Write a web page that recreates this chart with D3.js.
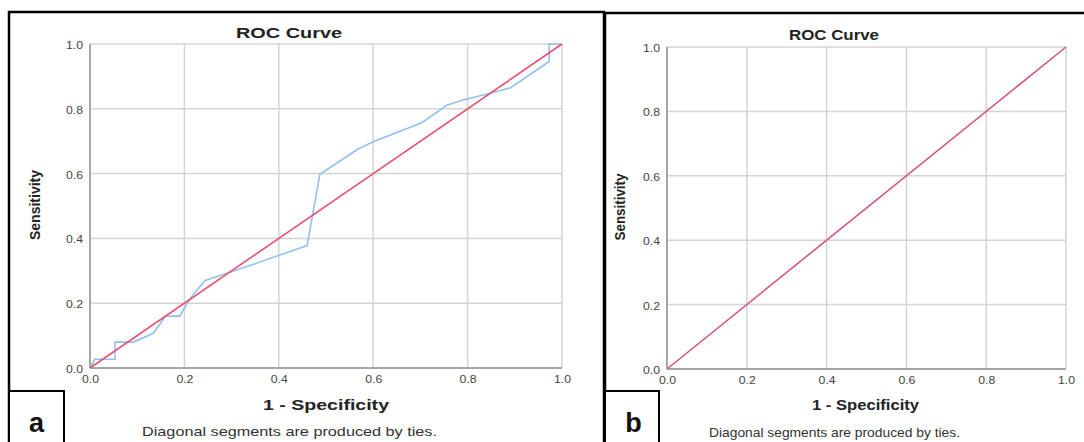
<!DOCTYPE html>
<html>
<head>
<meta charset="utf-8">
<script src="https://cdn.jsdelivr.net/npm/d3@7"></script>
<style>
  body { margin: 0; background: #fff; }
  svg { display: block; }
  text { font-family: "Liberation Sans", Arial, sans-serif; }
</style>
</head>
<body>
<div id="chart"></div>
<script>
// ---- data ----
var tickValues = [0, 0.2, 0.4, 0.6, 0.8, 1.0];
// panel a: empirical ROC curve (1 - specificity, sensitivity)
var rocFpr = [0, 0.01, 0.053, 0.053, 0.092, 0.134, 0.16, 0.19, 0.212, 0.244, 0.30, 0.46, 0.487, 0.568, 0.60, 0.703, 0.756, 0.79, 0.84, 0.891, 0.973, 0.973, 1.0];
var rocTpr = [0, 0.027, 0.027, 0.08, 0.08, 0.107, 0.16, 0.16, 0.215, 0.27, 0.297, 0.378, 0.598, 0.676, 0.698, 0.757, 0.811, 0.827, 0.845, 0.865, 0.946, 1.0, 1.0];
// reference diagonal
var refFpr = [0, 1];
var refTpr = [0, 1];
var panelLabels = ["a", "b"];
var chartTitle = "ROC Curve",
    xTitle = "1 - Specificity",
    yTitle = "Sensitivity",
    footNote = "Diagonal segments are produced by ties.";

var width = 1084, height = 442;

var svg = d3.select("#chart")
    .append("svg")
    .attr("width", width)
    .attr("height", height);

/* layout of the two panels (the source image is stretched sideways,
   so text widths are pinned with textLength) */
var panels = [
  { left: 90, right: 562, bottom: 368, top: 44,
    frameX: 9, frameY: 12, frameR: 604, boxR: 64, boxY: 391,
    titleX: 289, titleW: 106, titleY: 38,
    xTitleX: 326, xTitleW: 126, noteX: 289.5, noteW: 295, noteY: 436,
    yTitleX: 40, yTitleY: 205, yTitleW: 70, labelX: 36.5,
    curve: true, refColor: "#e8506e" },
  { left: 667, right: 1066, bottom: 369, top: 47,
    frameX: 605, frameY: 13, frameR: 1092, boxR: 659, boxY: 391,
    titleX: 834, titleW: 90, titleY: 40,
    xTitleX: 865.5, xTitleW: 107, noteX: 834.5, noteW: 251, noteY: 437,
    yTitleX: 625, yTitleY: 207, yTitleW: 67, labelX: 633.5,
    curve: false, refColor: "#d3597c" }
];

panels.forEach(function(p, i) {
  var g = svg.append("g");

  var x = d3.scaleLinear().domain([0, 1]).range([p.left, p.right]);
  var y = d3.scaleLinear().domain([0, 1]).range([p.bottom, p.top]);

  // grid
  g.selectAll(".vgrid").data(tickValues).enter().append("line")
    .attr("x1", d => x(d)).attr("x2", d => x(d))
    .attr("y1", y(0)).attr("y2", y(1))
    .attr("stroke", "#d4d4d4").attr("stroke-width", 1.5);
  g.selectAll(".hgrid").data(tickValues).enter().append("line")
    .attr("x1", x(0)).attr("x2", x(1))
    .attr("y1", d => y(d)).attr("y2", d => y(d))
    .attr("stroke", "#d4d4d4").attr("stroke-width", 1.5);

  // axes
  var xAxis = d3.axisBottom(x).tickValues(tickValues)
      .tickFormat(d3.format(".1f")).tickSize(0).tickPadding(8);
  var yAxis = d3.axisLeft(y).tickValues(tickValues)
      .tickFormat(d3.format(".1f")).tickSize(0).tickPadding(7);

  var gx = g.append("g").attr("transform", "translate(0," + p.bottom + ")").call(xAxis);
  var gy = g.append("g").attr("transform", "translate(" + p.left + ",0)").call(yAxis);
  [gx, gy].forEach(function(a) {
    a.select(".domain").remove();
    a.selectAll("text")
      .attr("font-size", 10)
      .attr("fill", "#444")
      .attr("textLength", 17)
      .attr("lengthAdjust", "spacingAndGlyphs");
  });
  gy.selectAll("text").attr("dy", "0.45em");

  g.append("line")
    .attr("x1", x(0)).attr("x2", x(0)).attr("y1", y(0)).attr("y2", y(1))
    .attr("stroke", "#a6a6a6").attr("stroke-width", 2);
  g.append("line")
    .attr("x1", x(0)).attr("x2", x(1)).attr("y1", y(0)).attr("y2", y(0))
    .attr("stroke", "#a6a6a6").attr("stroke-width", 2);

  var line = d3.line().x(d => x(d[0])).y(d => y(d[1]));

  if (p.curve) {
    g.append("path")
      .datum(d3.zip(rocFpr, rocTpr))
      .attr("d", line)
      .attr("fill", "none")
      .attr("stroke", "#92c0f0")
      .attr("stroke-width", 1.6);
  }
  g.append("path")
    .datum(d3.zip(refFpr, refTpr))
    .attr("d", line)
    .attr("fill", "none")
    .attr("stroke", p.refColor)
    .attr("stroke-width", 1.6);

  // texts
  g.append("text")
    .attr("x", p.titleX).attr("y", p.titleY)
    .attr("text-anchor", "middle")
    .attr("font-size", 14).attr("font-weight", "bold").attr("fill", "#222")
    .attr("textLength", p.titleW).attr("lengthAdjust", "spacingAndGlyphs")
    .text(chartTitle);

  g.append("text")
    .attr("x", p.xTitleX).attr("y", 410)
    .attr("text-anchor", "middle")
    .attr("font-size", 15).attr("font-weight", "bold").attr("fill", "#222")
    .attr("textLength", p.xTitleW).attr("lengthAdjust", "spacingAndGlyphs")
    .text(xTitle);

  g.append("text")
    .attr("transform", "translate(" + p.yTitleX + "," + p.yTitleY + ") rotate(-90)")
    .attr("text-anchor", "middle")
    .attr("font-size", 14).attr("font-weight", "bold").attr("fill", "#222")
    .attr("textLength", p.yTitleW).attr("lengthAdjust", "spacingAndGlyphs")
    .text(yTitle);

  g.append("text")
    .attr("x", p.noteX).attr("y", p.noteY)
    .attr("text-anchor", "middle")
    .attr("font-size", 13).attr("fill", "#333")
    .attr("textLength", p.noteW).attr("lengthAdjust", "spacingAndGlyphs")
    .text(footNote);

  // frame and corner label box
  g.append("rect")
    .attr("x", p.frameX).attr("y", p.frameY)
    .attr("width", p.frameR - p.frameX).attr("height", height + 20 - p.frameY)
    .attr("fill", "none").attr("stroke", "#000").attr("stroke-width", 2.5);
  g.append("rect")
    .attr("x", p.frameX).attr("y", p.boxY)
    .attr("width", p.boxR - p.frameX).attr("height", height + 20 - p.boxY)
    .attr("fill", "#fff").attr("stroke", "#000").attr("stroke-width", 2);
  g.append("text")
    .attr("x", p.labelX).attr("y", 432)
    .attr("text-anchor", "middle")
    .attr("font-size", 27).attr("font-weight", "bold").attr("fill", "#111")
    .text(panelLabels[i]);
});
</script>
</body>
</html>
